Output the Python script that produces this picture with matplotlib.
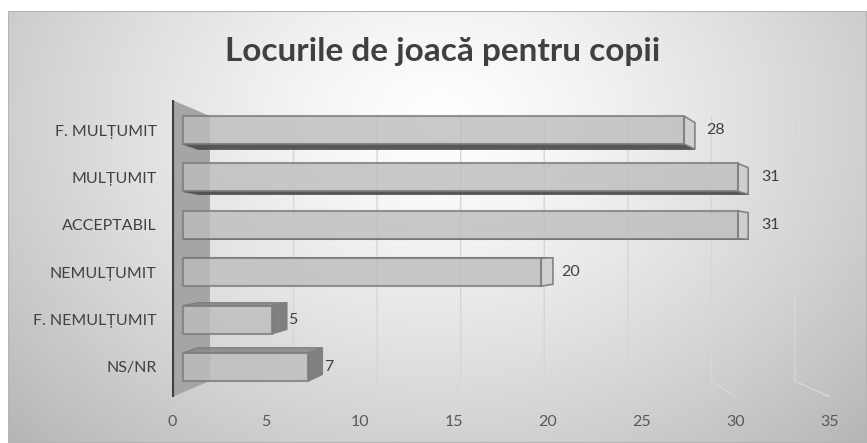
import numpy as np
import matplotlib
matplotlib.use("Agg")
import matplotlib.pyplot as plt
from matplotlib.patches import Polygon, Rectangle

plt.rcParams['font.family'] = ['Lato', 'DejaVu Sans']

# Survey answers, bottom row first
categories = ['NS/NR', 'F. NEMULȚUMIT', 'NEMULȚUMIT', 'ACCEPTABIL', 'MULȚUMIT', 'F. MULȚUMIT']
counts = [7, 5, 20, 31, 31, 28]
ticks = [0, 5, 10, 15, 20, 25, 30, 35]
title = 'Locurile de joacă pentru copii'

# fake 3D projection: each depth plane maps a value v to x = offset + scale * v
FRONT = (0.585, 0.952)      # bar front faces
BACK = (1.383, 0.944)       # bar back faces
WALL = (2.02, 0.889)        # back wall with gridlines
LABEL = (1.33, 0.968)       # value labels
Y_MID = 2.5                 # vertical vanishing row
K_BAR = 0.95                # vertical shrink of bar back faces
K_WALL = 0.892              # vertical shrink of back wall
BAR_H = 0.59
Y_LO, Y_HI = -0.633, 5.633


def proj(plane, v):
    return plane[0] + plane[1] * v


def shrink(y, k):
    return Y_MID + (y - Y_MID) * k


fig = plt.figure(figsize=(8.67, 4.43), dpi=100)

# radial gradient chart area
bg = fig.add_axes([8 / 867, 0, 1 - 8 / 867, 1 - 11 / 443])
bg.set_axis_off()
W, H = 859, 432
xx, yy = np.meshgrid(np.arange(W), np.arange(H))
r = np.sqrt(((xx - 432) / 520.0) ** 2 + ((yy - 110) / 400.0) ** 2)
shade = 1.0 - 0.24 * np.clip(r, 0, 1.15) ** 1.3
bg.imshow(np.dstack([shade] * 3), aspect='auto', extent=(0, W, H, 0))
bg.set_xlim(0, W)
bg.set_ylim(H, 0)
bg.add_patch(Rectangle((0, 0), W, H, fill=False, edgecolor='#b5b5b5', lw=1.5))

ax = fig.add_axes([172 / 867, 1 - 397 / 443, 658 / 867, 297 / 443])
ax.set_xlim(0, 35)
ax.set_ylim(Y_LO, Y_HI)
ax.patch.set_visible(False)
for s in ax.spines.values():
    s.set_visible(False)

# side wall
wall_top, wall_bot = shrink(Y_HI, K_WALL), shrink(Y_LO, K_WALL)
ax.add_patch(Polygon([(0, Y_HI), (WALL[0], wall_top), (WALL[0], wall_bot), (0, Y_LO)],
                     closed=True, facecolor='#a5a5a5', edgecolor='none', zorder=1))
ax.plot([0, 0], [Y_LO, Y_HI], color='#3f3f3f', lw=3, solid_capstyle='butt', zorder=2)

# gridlines on back wall and floor
for t in ticks[1:]:
    xb = proj(WALL, t)
    ax.plot([xb, xb, t], [wall_top, wall_bot, Y_LO], color='#d6d6d6', lw=1, zorder=1)

# bars
for i, v in enumerate(counts):
    xf0, xf1 = proj(FRONT, 0), proj(FRONT, v)
    xb0, xb1 = proj(BACK, 0), proj(BACK, v)
    yft, yfb = i + BAR_H / 2, i - BAR_H / 2
    ybt, ybb = shrink(yft, K_BAR), shrink(yfb, K_BAR)
    if i > Y_MID:
        # bottom face seen from below
        ax.add_patch(Polygon([(xf0, yfb), (xf1, yfb), (xb1, ybb), (xb0, ybb)], closed=True,
                             facecolor='#4f4f4f', edgecolor='#555555', lw=1, alpha=0.95, zorder=3))
    else:
        # top face seen from above
        ax.add_patch(Polygon([(xf0, yft), (xf1, yft), (xb1, ybt), (xb0, ybt)], closed=True,
                             facecolor='#8a8a8a', edgecolor='#7a7a7a', lw=1, alpha=0.9, zorder=3))
    cap = '#7b7b7b' if i < 2 else '#cfcfcf'
    ax.add_patch(Polygon([(xf1, yft), (xb1, ybt), (xb1, ybb), (xf1, yfb)], closed=True,
                         facecolor=cap, edgecolor='#7f7f7f', lw=1.2, alpha=0.95, zorder=3))
    ax.barh(i, xf1 - xf0, left=xf0, height=BAR_H, color='#bdbdbd', alpha=0.8,
            edgecolor='#7c7c7c', linewidth=1.5, zorder=4)
    ax.text(proj(LABEL, v), i, str(v), ha='left', va='center', fontsize=11.5,
            color='#404040', zorder=5)

ax.set_xticks(ticks)
ax.set_xticklabels([str(t) for t in ticks])
ax.set_yticks(range(len(categories)))
ax.set_yticklabels(categories)
ax.tick_params(axis='x', length=0, pad=13, labelsize=11.5, labelcolor='#595959')
ax.tick_params(axis='y', length=0, pad=11, labelsize=11.5, labelcolor='#404040')

fig.text(443 / 867, 1 - 51 / 443, title, ha='center', va='center', fontsize=24,
         fontweight='bold', color='#404040')

fig.savefig('out.png', dpi=100)
